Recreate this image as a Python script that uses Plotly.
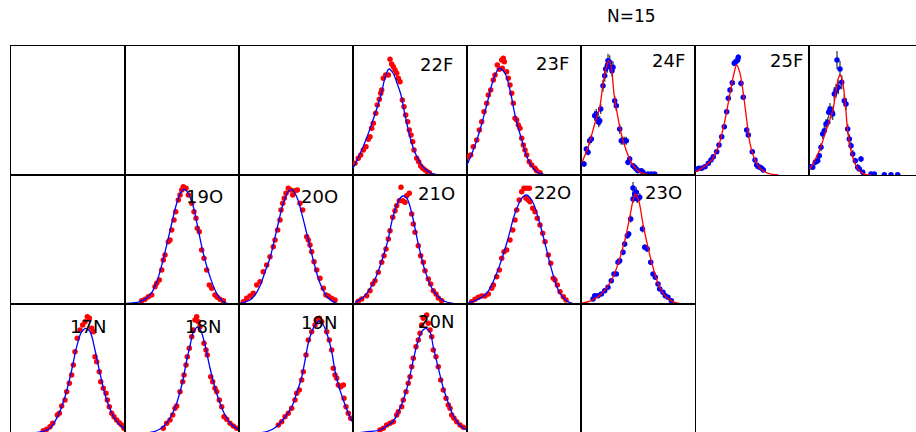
import plotly.graph_objects as go

# ---------------- data (x: bin, y: counts, arbitrary units) ----------------
# 22F
f22_x = [2, 5.3, 7.7, 10.3, 13, 15.3, 17, 18.7, 20.3, 22.7, 24.3, 26.3, 27.7, 28.7, 30.3, 32.7, 35.3, 37, 38.7, 40.3,
         42, 43.7, 45.3, 47, 49.3, 51, 52.7, 54.7, 56.3, 58, 59.7, 61, 63.7, 65.7, 67.7, 69.7, 72, 74.3, 76.3]
f22_y = [11.7, 16.7, 20, 25, 28.3, 35.7, 38.3, 46.7, 51.7, 61.7, 70, 75.7, 81.7, 85, 96.7, 100, 100, 115.7, 111, 108.3,
         105, 101.7, 96.7, 93.3, 75, 68.3, 60, 53.3, 45, 40, 33.3, 25, 16.7, 13.3, 9, 6.7, 5, 3.3, 2.3]
f22_cx = [0, 7, 14, 20, 24, 28, 32, 36, 40, 44, 48, 52, 56, 60, 64, 68, 72, 78, 87]
f22_cy = [6.7, 21, 38, 55, 67, 80, 97, 106, 102, 92, 80, 60, 42, 28, 18, 11, 6, 2, 0]

# 23F
f23_x = [1.3, 3.7, 6.3, 9.7, 12.3, 14.7, 17, 19.7, 21.3, 23.7, 26.3, 28, 30.3, 32.3, 34.7, 36.3, 37.3, 35.3, 39.7, 41.3,
         43, 44.7, 46.3, 48, 49.7, 51.3, 53, 54.7, 56.3, 58, 59.7, 62.3, 64.7, 68, 69.7, 73]
f23_y = [18.3, 20, 28.3, 35, 45, 53.3, 63.3, 71.7, 80, 85, 95, 100, 110, 105.7, 115, 116.7, 113.3, 106.7, 103.3, 96.7,
         90, 81.7, 71.7, 56.7, 55, 50, 46.7, 36.7, 30, 25, 20, 13.3, 10, 6.7, 4.3, 2.3]
f23_cx = [0, 6.3, 13, 19.7, 26.3, 32.3, 38, 43, 48, 54.7, 61.3, 69.7, 80]
f23_cy = [10, 25, 45, 70, 95, 106.7, 101.7, 85, 60, 35, 15, 3.3, 0]

# 24F
f24_x = [3, 5.3, 7, 8.7, 10.3, 13.7, 15.3, 16.3, 17.7, 18.7, 19.7, 22, 23.7, 24.7, 26.3, 27, 28.7, 29.7, 31, 32,
         33.7, 35.3, 38.7, 40.3, 42, 43.7, 45.3, 47, 48.7, 52, 53.7, 55.3, 57, 60.3, 62, 67, 70.3, 73.7]
f24_y = [11, 26, 22.7, 34.3, 36, 59.3, 61, 56, 52.7, 54.3, 66, 89.3, 99.3, 106, 109.3, 114.3, 112.7, 107.7, 104.3, 107.7,
         74.3, 69.3, 46, 34.3, 34.3, 34.3, 34.3, 12.7, 16, 9.3, 7.7, 6, 4.3, 4.3, 2.7, 1, 1, 1]
f24_e = [3, 3, 3, 4, 4, 5, 5, 5, 5, 5, 5, 6, 6, 6, 7, 7, 7, 6, 6, 6,
         5, 5, 5, 4, 4, 4, 4, 3, 3, 2, 2, 2, 2, 2, 1.5, 1, 1, 1]
f24_cx = [1, 7, 13.7, 18.7, 22, 25.3, 27.7, 30.3, 33, 36.3, 40.3, 45.3, 50.3, 57, 63.7, 73.7]
f24_cy = [12.7, 27.7, 51, 67.7, 91, 107.7, 114.3, 107.7, 81, 61, 41, 24.3, 12.7, 4.3, 1, 0]

# 25F
f25_x = [1.7, 4, 6.7, 10, 13.3, 16, 18.3, 21.7, 24, 26.7, 29.3, 31.7, 33.3, 35, 37.3, 39.3, 40.7, 42.7, 43.3, 46,
         48.3, 51.7, 53.3, 57.3, 60, 61.7, 63.3, 65, 66.7, 68.3]
f25_y = [5.7, 6.7, 6.7, 8.3, 11.7, 15, 18.3, 23.3, 30, 38.3, 48.3, 63.3, 76.7, 85, 92.3, 111.7, 113.3, 115, 117.7, 91.7,
         77.7, 45, 40, 23.3, 15, 10, 8.3, 7.7, 6.7, 5]
f25_e = [1, 1, 1, 1, 1.5, 1.5, 1.5, 2, 2, 2, 2, 2.5, 2.5, 2.5, 3, 3, 3, 3, 3, 3,
         2.5, 2.5, 2.5, 2, 2, 1.5, 1.5, 1.5, 1, 1]
f25_cx = [0.7, 6.7, 16.7, 23.3, 30, 35, 39, 41.7, 45, 48.3, 51.7, 55, 60, 65, 73.3, 83.3]
f25_cy = [3.3, 6.7, 15, 28.3, 55, 81.7, 101.7, 110, 101.7, 81.7, 55, 31.7, 15, 6.7, 1.7, 0]

# 26F (panel cut at the right edge)
f26_x = [2, 3.7, 6.3, 8.7, 10.3, 12, 13.7, 15.3, 17, 18.7, 19.7, 21, 23, 23.7, 25.3, 27, 28, 29.3, 31, 32.7,
         35.3, 37, 38.7, 40.3, 42, 43.7, 46.3, 48.7, 50.3, 52, 53.7, 62, 65.3, 75.3, 82, 88.7]
f26_y = [8.3, 7.7, 12.7, 14.3, 19.3, 27.7, 41, 44.3, 51, 52.7, 62.7, 66, 62.7, 61, 81, 84.3, 115, 87.7, 106, 92.7,
         74.3, 71, 46, 36, 29.3, 21, 14.3, 7.7, 6, 16, 2.7, 1, 1, 0.3, 0.3, 0.3]
f26_e = [2, 2, 3, 3, 3, 4, 5, 5, 5, 5, 6, 6, 6, 6, 7, 7, 9, 7, 8, 7,
         6, 6, 5, 5, 4, 4, 3, 3, 2, 3, 2, 1, 1, 1, 1, 1]
f26_cx = [1, 10.3, 17, 23.7, 27, 29.7, 31.3, 33.7, 36.3, 38.7, 42, 47, 52, 57, 62]
f26_cy = [6, 24.3, 44.3, 64.3, 84.3, 97.7, 100.3, 92.7, 71, 44.3, 24.3, 9.3, 2.7, 0.3, 0]

# 19O
o19_x = [16.7, 20, 23.3, 26.7, 30, 31.7, 34.3, 36.7, 38.3, 40, 43.3, 45, 46.7, 49, 50.7, 53.3, 55, 56.7, 58.3, 61,
         63.3, 66.7, 69, 71, 72.3, 74.3, 76.7, 79, 81.7, 84.3, 86.7, 90, 92.3, 95, 98.3]
o19_y = [3.3, 4.7, 7.3, 9, 17.3, 20.7, 24, 34, 44, 49, 62.3, 64, 74, 84, 92.3, 104, 109, 114, 117.3, 115.7,
         109, 100.7, 92.3, 85.7, 75.7, 72.3, 54, 45.7, 34, 19, 15.7, 9, 6.7, 4.7, 3.3]
o19_cx = [1.7, 15, 25, 31.7, 38.3, 45, 51.7, 55.7, 59, 63.3, 68.3, 73.3, 78.3, 85, 91.7, 98.3, 105]
o19_cy = [0.7, 2.3, 9, 22, 45, 73, 100.7, 111.3, 114.7, 110.7, 97.3, 74, 50.7, 27.3, 10.7, 2.3, 0]

# 20O
o20_x = [4.3, 7.7, 11, 14.3, 17.7, 21, 24.3, 27.7, 31, 34.3, 36, 38.7, 41, 42, 43.7, 45.3, 47, 49.3, 51.7, 53.7,
         56, 58.3, 61, 63.7, 67.7, 69.3, 71, 72.7, 75, 77.7, 81, 84.3, 87, 89.3, 92.7, 96]
o20_y = [2.3, 5.7, 8, 10.7, 19, 22.3, 32.3, 39, 47.3, 57.3, 64, 74, 84, 94, 100.7, 105.7, 110.7, 115.7, 114, 109,
         113.3, 114, 100.7, 94, 67.3, 64, 59, 52.3, 42.3, 34, 25.7, 15.7, 9, 8, 5.7, 4]
o20_cx = [1, 11, 16, 21, 26, 31, 37.7, 44.3, 49.3, 52.7, 57.7, 62.7, 67.7, 74.3, 81, 89.3, 97.7, 105]
o20_cy = [0.7, 4, 9, 18, 32, 46, 74, 100.7, 112.3, 114.7, 107.3, 90.7, 70.7, 44, 20.7, 5.7, 0.7, 0]

# 21O
o21_x = [5.3, 8.7, 13.7, 17, 19.7, 22, 25.3, 28.7, 31, 33, 35.3, 37, 39.7, 42, 43.7, 46.3, 48, 49.7, 52, 53.7,
         56.3, 58.7, 60.3, 62, 65.3, 67.7, 70.3, 72, 75.3, 77.7, 80.3, 83, 85.3, 88.7]
o21_y = [2.7, 5, 8.3, 13.3, 20, 23.3, 31.7, 41.7, 48.3, 55, 65, 73.3, 86.7, 93.3, 98.3, 103.3, 116.7, 103.3, 101.7, 108.3,
         110.7, 90, 80, 71.7, 58.3, 48.3, 41.7, 33.3, 25, 20, 13.3, 10, 6, 3.3]
o21_cx = [2, 10.3, 20.3, 25.3, 30.3, 35, 38.7, 42, 45.3, 49.7, 53.7, 58.7, 65.3, 72, 80.3, 90.3, 100.3]
o21_cy = [1.7, 6.7, 21, 33, 48, 64, 82, 94, 103, 108, 106, 91, 60, 33.3, 13.3, 3.3, 0.7]

# 22O
o22_x = [4.7, 8, 11.3, 14.7, 18, 21.3, 24.7, 26.3, 29.7, 32.3, 34.7, 37, 39.7, 43, 45.7, 48, 49.7, 52.3, 54.7, 57,
         59.7, 62.3, 59, 61.3, 63, 65.7, 68, 70.3, 73, 75.7, 78, 81.3, 83.7, 86.3, 88, 90.3, 93, 96.3, 99]
o22_y = [2.3, 4.7, 6.7, 8, 8, 10, 15.7, 19, 27.3, 34, 45.7, 52.3, 54, 64, 74, 84, 94, 104, 112.3, 115.7,
         115.7, 115.7, 105.7, 104, 102.3, 95.7, 92.3, 85.7, 79, 70.7, 62.3, 49, 40.7, 25.7, 24, 19, 12.3, 7.3, 4]
o22_cx = [1.3, 9.7, 19.7, 29.7, 39.7, 48, 54.7, 59, 64.7, 71.3, 78, 84.7, 93, 103, 111.3]
o22_cy = [1.3, 4, 10.7, 30.7, 60.7, 90.7, 105.7, 109, 104, 85.7, 60.7, 34, 10.7, 1.3, 0]

# 23O
o23_x = [12, 13.7, 17, 20.3, 23.7, 27, 30.3, 33, 35.3, 37, 38.7, 42, 43.7, 46.3, 47.7, 49.7, 52, 52, 53.7, 55.3,
         56.3, 58.7, 61.5, 63.7, 66.3, 69.7, 72, 74.3, 77, 78.7, 82, 84.3, 87, 90.3]
o23_y = [5, 8.3, 8.3, 10, 13.3, 16.7, 23.3, 30, 30, 41.7, 43.3, 51.7, 60, 68.3, 70, 85, 105, 116, 110, 111.7,
         105, 106.7, 75, 56.7, 55, 41.7, 30, 26.7, 20, 15, 11.7, 8.3, 6.7, 3.3]
o23_e = [1, 1, 1, 1, 1.5, 1.5, 2, 2, 2, 2.5, 2.5, 3, 3, 3, 3, 3.5, 4, 6, 5, 5,
         4, 4, 3.5, 3, 3, 2.5, 2, 2, 2, 1.5, 1.5, 1, 1, 1]
o23_cx = [0.3, 10.3, 20.3, 30.3, 37, 43.7, 48.7, 52, 54.3, 57.7, 62, 67, 72, 78.7, 85.3, 93.7, 103.7]
o23_cy = [0.7, 3.3, 10, 23.3, 40, 63.3, 86.7, 103.3, 110, 103.3, 80, 56.7, 36.7, 16.7, 6.7, 1.7, 0]

# 17N
n17_x = [32.3, 35.7, 39, 41.7, 46.3, 48.3, 50.7, 54, 55.7, 58.3, 60.7, 62.3, 64, 66.3, 69, 71.7, 74, 76.3, 78.3, 80.7,
         82.3, 84, 85.7, 88.3, 89.7, 92.3, 95, 96.3, 98.3, 100.7, 103, 105.7, 108.3, 110.7, 113]
n17_y = [2.3, 3.7, 6.3, 9.7, 18, 19.7, 27, 33, 41.3, 49.7, 58, 68, 81.3, 94.7, 103, 108, 111.3, 116.3, 114.7, 104.7,
         101.3, 76.3, 71.3, 61.3, 51.3, 44.7, 39.7, 33, 26.3, 19.7, 16.3, 13, 10.3, 8, 4.7]
n17_cx = [20, 30.7, 39, 47.3, 54, 60.7, 65.7, 70.7, 75, 79, 84, 89, 95.7, 104, 110, 114]
n17_cy = [0, 1.3, 4.7, 18, 36.3, 63, 86.3, 101.3, 104.7, 101.3, 83, 59.7, 33, 14, 7, 4]

# 18N
n18_x = [38.3, 41.7, 45, 47.7, 50, 51.7, 55, 57.7, 59, 61, 62.3, 64.3, 66.7, 68.3, 70, 71.7, 73.3, 75, 79, 81,
         82.3, 85.7, 87.7, 90, 91.7, 94.3, 96.7, 99, 101.7, 105, 108.3, 111.7]
n18_y = [4.7, 9.7, 13, 18, 24.7, 27, 41.3, 51.3, 58, 68, 76.3, 84.7, 96.3, 103, 113, 116.3, 111.3, 106.3, 89.7, 83,
         78, 56.3, 51.3, 44.7, 41.3, 33, 26.3, 16.3, 13.7, 9.7, 7, 4.7]
n18_cx = [20, 28, 35, 40, 45, 50, 55, 58.3, 62, 65, 68, 71, 73.3, 76, 80, 85, 90, 95, 100, 106, 114]
n18_cy = [0, 1, 4, 8, 15, 25, 41, 55, 74, 87, 100, 105, 106, 102, 88, 65, 45, 30, 18, 9, 3]

# 19N
n19_x = [39.3, 42.7, 46, 49.3, 52.7, 56, 57.7, 60.3, 62.7, 64.3, 67, 69.3, 72.7, 76, 78.3, 80.3, 82.7, 87.7, 90.3, 92.7,
         94.3, 96, 97.7, 99.3, 101.7, 104.3, 105, 107, 109.3, 111.7]
n19_y = [8, 11.3, 16.3, 19.7, 24.7, 33, 39.7, 43, 53, 61.3, 78, 93, 101.3, 108, 113, 114.7, 111.3, 101.3, 93, 83,
         64.7, 58, 54.7, 48, 46.3, 48, 34.7, 26.3, 19.7, 14.7]
n19_cx = [20, 28, 34, 39.3, 46, 52.7, 57.7, 62.7, 67, 69.3, 72.7, 76, 80.3, 84.3, 89.3, 93, 96, 100, 104, 108, 112, 114]
n19_cy = [0, 1.5, 4, 8, 16, 26, 40, 56, 78, 90, 101, 108, 112, 108, 95, 80, 62, 46, 34, 23, 14, 10]

# 20N
n20_x = [27, 30.3, 33.7, 37, 40.3, 43.7, 45.3, 48.7, 50.3, 53, 55.3, 57, 58.7, 60.3, 63, 65.3, 67, 68.7, 70.3, 73.7,
         75.3, 77, 78.7, 80.3, 83, 85.3, 87.7, 90.3, 93, 95.3, 97, 98.7, 101, 103.7, 107, 110.3]
n20_y = [3, 4.7, 8, 9.7, 11.3, 18, 21.3, 26.3, 33, 41.3, 49.7, 56.3, 66.3, 74.7, 86.3, 93, 99.7, 108, 114.7, 118,
         109.7, 103, 96.3, 83, 76.3, 66.3, 53, 43, 34.7, 28, 24.7, 18, 14.7, 11.3, 8, 5.7]
n20_cx = [3.7, 17, 27, 33.7, 40.3, 45.3, 50.3, 55.3, 60.3, 65.3, 70, 73, 77, 80.3, 85.3, 90.3, 95.3, 100, 105, 110, 114]
n20_cy = [0, 1.5, 3, 7, 12, 21, 33, 50, 73, 93, 103, 104.7, 101, 86, 65, 45, 30, 18, 10, 5, 3]

labels = ["22F", "23F", "24F", "25F", "26F", "19O", "20O", "21O", "22O", "23O", "17N", "18N", "19N", "20N"]
title_text = "N=15"

# ---------------- layout of the grid ----------------
W, H = 916, 432
PW, PH = 114, 129
X0 = 11
ROW_TOPS = [46, 175, 304]

RED, BLUE = "#ff0000", "#0000ff"

# panel spec: (row, col, (label, points x, y, err, curve x, y, point colour, curve colour, label pos))
panels = [
    (0, 0, None), (0, 1, None), (0, 2, None),
    (0, 3, ("22F", f22_x, f22_y, None, f22_cx, f22_cy, RED, BLUE, (102, 110.5))),
    (0, 4, ("23F", f23_x, f23_y, None, f23_cx, f23_cy, RED, BLUE, (103.7, 112))),
    (0, 5, ("24F", f24_x, f24_y, f24_e, f24_cx, f24_cy, BLUE, RED, (106.3, 114.7))),
    (0, 6, ("25F", f25_x, f25_y, f25_e, f25_cx, f25_cy, BLUE, RED, (110, 114.7))),
    (0, 7, ("26F", f26_x, f26_y, f26_e, f26_cx, f26_cy, BLUE, RED, None)),
    (1, 0, None),
    (1, 1, ("19O", o19_x, o19_y, None, o19_cx, o19_cy, RED, BLUE, (100, 107.7))),
    (1, 2, ("20O", o20_x, o20_y, None, o20_cx, o20_cy, RED, BLUE, (101, 108))),
    (1, 3, ("21O", o21_x, o21_y, None, o21_cx, o21_cy, RED, BLUE, (104.3, 111))),
    (1, 4, ("22O", o22_x, o22_y, None, o22_cx, o22_cy, RED, BLUE, (105.7, 111.8))),
    (1, 5, ("23O", o23_x, o23_y, o23_e, o23_cx, o23_cy, BLUE, RED, (103, 112))),
    (2, 0, ("17N", n17_x, n17_y, None, n17_cx, n17_cy, RED, BLUE, (97.3, 106.5))),
    (2, 1, ("18N", n18_x, n18_y, None, n18_cx, n18_cy, RED, BLUE, (98, 106.5))),
    (2, 2, ("19N", n19_x, n19_y, None, n19_cx, n19_cy, RED, BLUE, (100, 110.5))),
    (2, 3, ("20N", n20_x, n20_y, None, n20_cx, n20_cy, RED, BLUE, (103, 112))),
    (2, 4, None), (2, 5, None),
]

fig = go.Figure()
layout = dict(
    width=W, height=H, margin=dict(l=0, r=0, t=0, b=0, pad=0),
    paper_bgcolor="white", plot_bgcolor="white", showlegend=False,
    font=dict(family="DejaVu Sans", color="black"),
)
annotations = []
LW = 1.3

for i, (r, c, spec) in enumerate(panels, start=1):
    left = X0 + PW * c
    right = min(left + PW, W)
    top = ROW_TOPS[r]
    bottom = top + PH
    cut_bottom = max(0, bottom - H)
    bottom_vis = min(bottom, H)
    sfx = "" if i == 1 else str(i)
    xa = dict(
        domain=[left / W, right / W], range=[0, right - left], anchor="y" + sfx,
        showline=True, linecolor="black", linewidth=LW, mirror=(cut_bottom == 0),
        side="bottom" if cut_bottom == 0 else "top",
        showticklabels=False, ticks="", showgrid=False, zeroline=False, fixedrange=True,
    )
    ya = dict(
        domain=[1 - bottom_vis / H, 1 - top / H], range=[cut_bottom, PH], anchor="x" + sfx,
        showline=True, linecolor="black", linewidth=LW, mirror=(right - left == PW),
        showticklabels=False, ticks="", showgrid=False, zeroline=False, fixedrange=True,
    )
    layout["xaxis" + sfx] = xa
    layout["yaxis" + sfx] = ya
    if spec is None:
        # empty frame: an invisible trace keeps the axes (and their frame) drawn
        fig.add_trace(go.Scatter(x=[None], y=[None], mode="markers", xaxis="x" + sfx, yaxis="y" + sfx,
                                 hoverinfo="skip"))
        continue
    name, px, py, pe, cx, cy, pcol, ccol, lpos = spec
    err = None
    if pe is not None:
        err = dict(type="data", array=pe, visible=True, color="#4d4d4d", thickness=1.4, width=0)
    fig.add_trace(go.Scatter(
        x=px, y=py, mode="markers", xaxis="x" + sfx, yaxis="y" + sfx,
        marker=dict(color=pcol, size=5.5, line=dict(width=0)), error_y=err, hoverinfo="skip",
    ))
    fig.add_trace(go.Scatter(
        x=cx, y=cy, mode="lines", xaxis="x" + sfx, yaxis="y" + sfx,
        line=dict(color=ccol, width=1.3, shape="spline", smoothing=1.0), hoverinfo="skip",
    ))
    if lpos is not None:
        annotations.append(dict(
            text=name, x=lpos[0], y=lpos[1], xref="x" + sfx, yref="y" + sfx,
            xanchor="right", yanchor="middle", showarrow=False,
            font=dict(family="DejaVu Sans", size=18, color="black"),
        ))

annotations.append(dict(
    text=title_text, x=631 / W, y=1 - 16 / H, xref="paper", yref="paper",
    xanchor="center", yanchor="middle", showarrow=False,
    font=dict(family="DejaVu Sans", size=17, color="black"),
))
layout["annotations"] = annotations
fig.update_layout(**layout)
fig.write_html("out.html")
